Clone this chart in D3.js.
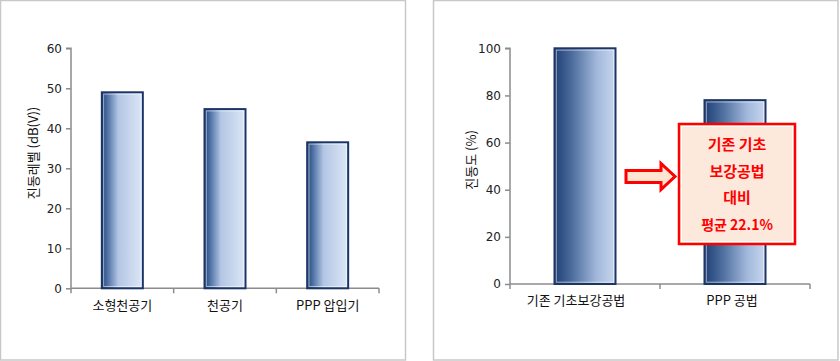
<!DOCTYPE html>
<html><head><meta charset="utf-8">
<script src="https://cdn.jsdelivr.net/npm/d3@7"></script>
<style>body{margin:0;background:#fff}svg{display:block}</style>
</head><body>
<svg id="c" width="840" height="361"></svg>
<script>
const leftCategories = ["소형천공기", "천공기", "PPP 압입기"];
const leftValues = [49, 44.8, 36.5];
const leftTicks = [0, 10, 20, 30, 40, 50, 60];
const leftYLabel = "진동레벨 (dB(V))";

const rightCategories = ["기존 기초보강공법", "PPP 공법"];
const rightValues = [100, 78];
const rightTicks = [0, 20, 40, 60, 80, 100];
const rightYLabel = "진동도 (%)";
const calloutLines = ["기존 기초", "보강공법", "대비", "평균 22.1%"];

const svg = d3.select("#c");
const font = "'Noto Sans CJK KR', 'Noto Sans', sans-serif";

// panel borders
svg.append("rect").attr("x",0.5).attr("y",0.5).attr("width",405).attr("height",359.5)
  .attr("fill","none").attr("stroke","#c8c8c8").attr("stroke-width",1.5);
svg.append("rect").attr("x",433.5).attr("y",0.5).attr("width",404.5).attr("height",359.5)
  .attr("fill","none").attr("stroke","#c8c8c8").attr("stroke-width",1.5);

const defs = svg.append("defs");
function grad(id, stops){
  const g = defs.append("linearGradient").attr("id",id).attr("x1","0").attr("x2","1").attr("y1","0").attr("y2","0");
  stops.forEach(s=>g.append("stop").attr("offset",s[0]).attr("stop-color",s[1]));
}
grad("gL", [["0%","#1f4279"],["12%","#476a9f"],["40%","#b3c6e4"],["100%","#dde7f6"]]);
grad("gR", [["0%","#1f4076"],["30%","#4f6f9f"],["70%","#a3b9dc"],["100%","#c6d6ee"]]);

function chart(cfg){
  const g = svg.append("g");
  const x = d3.scaleBand().domain(cfg.cats).range([cfg.x0, cfg.x1]);
  const y = d3.scaleLinear().domain([0, cfg.max]).range([cfg.y0, cfg.y1]);

  // y axis
  const ya = g.append("g").attr("transform",`translate(${cfg.x0},0)`)
    .call(d3.axisLeft(y).tickValues(cfg.ticks).tickSize(5).tickPadding(4));
  ya.select(".domain").attr("stroke","#8c8c8c").attr("stroke-width",1.5).attr("d",`M-5,${cfg.y1}H0V${cfg.y0}`);
  ya.selectAll(".tick line").attr("stroke","#8c8c8c").attr("stroke-width",1.5);
  ya.selectAll(".tick text").attr("font-family","Tahoma, 'DejaVu Sans', sans-serif").attr("font-size",12).attr("fill","#222");

  // x axis
  const xa = g.append("g").attr("transform",`translate(0,${cfg.y0})`)
    .call(d3.axisBottom(x).tickSize(0).tickPadding(12));
  xa.select(".domain").attr("stroke","#8c8c8c").attr("stroke-width",1.5).attr("d",`M${cfg.x0},0H${cfg.x1}`);
  xa.selectAll(".tick text").attr("font-family",font).attr("font-size",13).attr("fill","#111")
    .attr("dx", (d,i)=>cfg.labelDx ? cfg.labelDx[i] : 0);
  // category separators
  const seps = [cfg.x0, ...cfg.cats.map(c=>x(c)+x.bandwidth())];
  g.selectAll(".sep").data(seps).join("line")
    .attr("x1",d=>d).attr("x2",d=>d).attr("y1",cfg.y0).attr("y2",cfg.y0+5)
    .attr("stroke","#8c8c8c").attr("stroke-width",1.5);

  // bars
  const bw = cfg.barW;
  const bars = g.selectAll(".bar").data(cfg.vals).join("g");
  bars.append("rect")
    .attr("x",(d,i)=>x(cfg.cats[i])+x.bandwidth()/2-bw/2)
    .attr("y",d=>y(d)).attr("width",bw).attr("height",d=>cfg.y0-y(d))
    .attr("fill",`url(#${cfg.grad})`).attr("stroke","#1c3566").attr("stroke-width",2);
  bars.append("rect")
    .attr("x",(d,i)=>x(cfg.cats[i])+x.bandwidth()/2-bw/2+1.8)
    .attr("y",d=>y(d)+1.8).attr("width",bw-3.6).attr("height",d=>cfg.y0-y(d)-3.6)
    .attr("fill","none").attr("stroke","#ffffff").attr("stroke-opacity",0.55).attr("stroke-width",1);

  // y label
  g.append("text").attr("transform",`translate(${cfg.labX},${cfg.labY}) rotate(-90)`)
    .attr("text-anchor","middle").attr("dominant-baseline","central")
    .attr("font-family",font).attr("font-size",13).attr("fill","#111").text(cfg.ylabel);
  return {x,y,g};
}

chart({cats:leftCategories, vals:leftValues, ticks:leftTicks, max:60,
  x0:71, x1:379, y0:288.3, y1:48.3, barW:41, grad:"gL",
  ylabel:leftYLabel, labX:32, labY:153});

const R = chart({cats:rightCategories, vals:rightValues, ticks:rightTicks, max:100,
  x0:510, x1:810, y0:284, y1:48.3, barW:61, grad:"gR",
  ylabel:rightYLabel, labX:470, labY:160, labelDx:[-9,-3]});

// arrow
const ag = svg.append("g");
const ax0=626, ax1=675, ah=661, ym=176.5;
ag.append("path")
  .attr("d",`M${ax0},${ym-6}H${ah}V${ym-13}L${ax1},${ym}L${ah},${ym+13}V${ym+6}H${ax0}Z`)
  .attr("fill","#fde5d2").attr("stroke","#ff0000").attr("stroke-width",3).attr("stroke-linejoin","miter");

// callout box
const cb = svg.append("g");
cb.append("rect").attr("x",679).attr("y",124).attr("width",116).attr("height",120)
  .attr("fill","#fde9dc").attr("stroke","#ff0000").attr("stroke-width",2.5);
cb.append("rect").attr("x",681.5).attr("y",126.5).attr("width",111).attr("height",115)
  .attr("fill","none").attr("stroke","#ffffff").attr("stroke-width",1);
cb.selectAll("text").data(calloutLines).join("text")
  .attr("x",737).attr("y",(d,i)=>143.5+i*26.7)
  .attr("text-anchor","middle").attr("dominant-baseline","central")
  .attr("font-family",font).attr("font-weight","bold").attr("font-size",(d,i)=>i===3?14:15)
  .attr("fill","#ff0000").text(d=>d);
</script>
</body></html>
